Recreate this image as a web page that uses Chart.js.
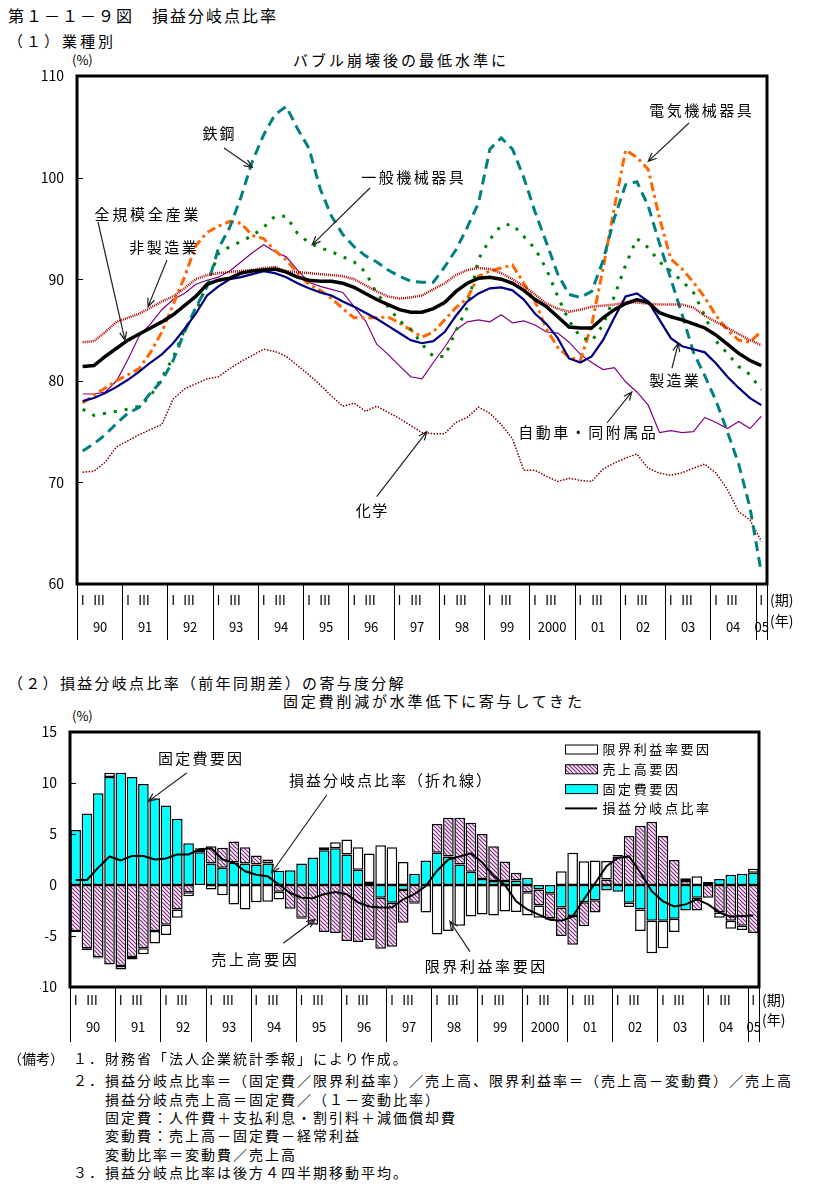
<!DOCTYPE html>
<html lang="ja">
<head>
<meta charset="utf-8">
<script src="https://cdn.jsdelivr.net/npm/chart.js@4.4.1/dist/chart.umd.min.js"></script>
<style>
  body { margin: 0; width: 830px; height: 1186px; background: #fff; position: relative; overflow: hidden;
         font-family: "Noto Sans CJK JP", "Noto Sans", sans-serif; color: #000; }
  .txt { position: absolute; white-space: nowrap; line-height: 1; }
  canvas { position: absolute; left: 0; }
</style>
</head>
<body>
<div class="txt" style="left:8px;top:7px;font-size:16px;letter-spacing:2px">第１－１－９図　損益分岐点比率</div>
<div class="txt" style="left:8px;top:33px;font-size:15px;letter-spacing:3px">（１）業種別</div>
<div class="txt" style="left:72px;top:53px;font-size:13px">(%)</div>
<div class="txt" style="left:293px;top:52px;font-size:15px;letter-spacing:3px">バブル崩壊後の最低水準に</div>
<canvas id="chart-industry" width="830" height="620" style="top:40px"></canvas>

<div class="txt" style="left:8px;top:675px;font-size:15px;letter-spacing:2.3px">（２）損益分岐点比率（前年同期差）の寄与度分解</div>
<div class="txt" style="left:283px;top:693px;font-size:15px;letter-spacing:2.8px">固定費削減が水準低下に寄与してきた</div>
<div class="txt" style="left:72px;top:709px;font-size:13px">(%)</div>
<canvas id="chart-factors" width="830" height="380" style="top:680px"></canvas>

<div class="txt" style="left:8px;top:1051px;font-size:14px">（備考）</div>
<div class="txt" style="left:73px;top:1051px;font-size:14px;letter-spacing:2px">１．財務省「法人企業統計季報」により作成。</div>
<div class="txt" style="left:73px;top:1073px;font-size:14px;letter-spacing:2px">２．損益分岐点比率＝（固定費／限界利益率）／売上高、限界利益率＝（売上高－変動費）／売上高</div>
<div class="txt" style="left:105px;top:1092px;font-size:14px;letter-spacing:2px">損益分岐点売上高＝固定費／（１－変動比率）</div>
<div class="txt" style="left:105px;top:1110px;font-size:14px;letter-spacing:2px">固定費：人件費＋支払利息・割引料＋減価償却費</div>
<div class="txt" style="left:105px;top:1128px;font-size:14px;letter-spacing:2px">変動費：売上高－固定費－経常利益</div>
<div class="txt" style="left:105px;top:1147px;font-size:14px;letter-spacing:2px">変動比率＝変動費／売上高</div>
<div class="txt" style="left:73px;top:1165px;font-size:14px;letter-spacing:2px">３．損益分岐点比率は後方４四半期移動平均。</div>

<script>
// quarters 1990 I .. 2005 I
const YEARS = ['90', '91', '92', '93', '94', '95', '96', '97', '98', '99', '2000', '01', '02', '03', '04', '05'];
const quarterLabels = [];
YEARS.forEach((yr, k) => {
  for (let q = 1; q <= 4; q++) {
    if (k === YEARS.length - 1 && q > 1) break;
    quarterLabels.push(yr + '-' + q);
  }
});

// (1) break-even ratio by industry, %
const allIndustries = [81.4, 81.5, 82.4, 83.2, 84.0, 84.6, 85.2, 85.8, 86.5, 87.4,
  88.3, 89.5, 89.9, 90.1, 90.6, 90.8, 90.9, 91.0, 90.7, 90.2,
  89.9, 89.8, 89.8, 89.6, 89.2, 88.6, 88.0, 87.5, 87.0, 86.75,
  86.75, 87.1, 87.7, 88.8, 89.6, 90.1, 90.2, 90.0, 89.6, 88.9,
  88.0, 87.3, 86.3, 85.3, 85.2, 85.2, 86.2, 87.0, 87.6, 88.0,
  87.7, 86.7, 86.3, 86.0, 85.6, 85.2, 84.5, 83.6, 82.7, 82.0, 81.5];
const nonManufacturing = [83.8, 83.9, 84.8, 85.8, 86.2, 86.6, 87.2, 87.8, 88.3, 89.1,
  90.0, 90.4, 90.6, 90.7, 90.8, 90.9, 91.1, 91.2, 90.8, 90.7,
  90.6, 90.5, 90.4, 90.3, 90.0, 89.4, 88.8, 88.3, 88.1, 88.2,
  88.4, 89.0, 89.6, 90.4, 90.9, 91.1, 91.0, 90.6, 90.0, 89.3,
  88.5, 87.6, 87.1, 86.8, 87.0, 87.3, 87.4, 87.5, 87.7, 87.7,
  87.6, 87.5, 87.5, 87.5, 87.2, 86.4, 85.8, 85.2, 84.6, 84.0, 83.5];
const manufacturing = [78.0, 78.3, 78.8, 79.4, 80.1, 80.9, 81.8, 82.6, 83.7, 85.1,
  86.6, 88.4, 89.3, 90.0, 90.2, 90.5, 90.8, 90.6, 90.2, 89.6,
  89.1, 88.7, 88.4, 87.8, 87.3, 86.7, 86.1, 85.4, 84.7, 84.0,
  83.7, 83.9, 84.8, 86.4, 87.8, 88.6, 89.1, 89.2, 88.9, 88.0,
  86.6, 85.6, 84.2, 82.2, 81.8, 82.4, 84.0, 86.2, 88.3, 88.6,
  87.8, 86.0, 84.2, 83.4, 83.1, 82.8, 81.7, 80.4, 79.3, 78.3, 77.6];
const steel = [73.1, 73.8, 74.7, 75.8, 76.8, 77.4, 78.8, 80.0, 82.0, 84.8,
  87.2, 89.3, 93.0, 95.1, 98.1, 101.6, 104.2, 106.2, 107.0, 104.8,
  102.9, 98.9, 96.2, 94.4, 93.2, 92.3, 91.7, 90.9, 90.3, 89.8,
  89.7, 89.7, 91.2, 92.9, 95.1, 97.5, 102.8, 103.9, 102.8, 100.0,
  96.6, 93.6, 90.5, 88.5, 88.2, 88.8, 91.8, 96.0, 99.3, 99.6,
  97.2, 93.5, 90.0, 86.5, 82.8, 80.5, 78.0, 75.0, 71.8, 67.5, 61.1];
const machinery = [77.2, 76.6, 76.8, 77.0, 77.2, 77.5, 78.5, 80.3, 82.3, 85.0,
  86.8, 89.5, 92.5, 93.2, 93.7, 94.3, 95.1, 96.2, 96.2, 94.5,
  93.6, 93.1, 92.7, 92.2, 91.7, 90.7, 88.6, 87.3, 85.9, 85.1,
  83.6, 82.4, 82.4, 84.9, 87.2, 92.0, 93.9, 95.3, 95.4, 94.2,
  93.0, 91.0, 88.3, 85.9, 84.3, 83.9, 85.5, 88.3, 91.4, 94.0,
  93.1, 91.7, 90.8, 89.8, 88.7, 86.4, 83.9, 82.7, 81.4, 80.6, 79.1];
const electrical = [77.8, 78.6, 79.3, 80.0, 80.6, 81.2, 82.8, 84.8, 87.5, 90.2,
  93.3, 94.6, 95.2, 95.7, 95.5, 94.3, 94.0, 92.8, 91.9, 90.6,
  89.5, 88.9, 88.1, 87.1, 86.2, 86.2, 86.2, 86.3, 85.7, 85.0,
  84.3, 84.8, 86.0, 87.2, 88.1, 90.3, 90.8, 91.1, 91.4, 89.6,
  87.8, 85.1, 83.3, 82.3, 82.0, 85.5, 91.0, 97.0, 102.7, 102.0,
  100.8, 96.0, 92.0, 91.0, 89.7, 88.2, 86.4, 85.0, 84.0, 83.8, 84.9];
const automobiles = [78.7, 78.7, 78.9, 80.0, 82.1, 84.4, 85.6, 87.0, 88.0, 88.6,
  89.5, 89.9, 90.2, 90.8, 91.7, 92.6, 93.4, 92.7, 92.2, 90.9,
  89.7, 89.3, 89.0, 88.7, 87.3, 85.9, 83.6, 82.6, 81.5, 80.4,
  80.2, 81.8, 83.3, 85.0, 85.8, 86.0, 85.8, 86.5, 85.7, 85.9,
  85.5, 84.8, 84.7, 83.8, 82.6, 81.8, 81.1, 81.3, 79.9, 78.9,
  77.6, 74.9, 75.1, 74.9, 75.0, 76.4, 75.9, 75.3, 76.0, 75.3, 76.5];
const chemicals = [71.0, 71.1, 72.0, 73.5, 74.1, 74.7, 75.2, 75.7, 78.2, 79.2,
  79.7, 80.2, 80.4, 81.2, 81.9, 82.5, 83.1, 82.9, 82.4, 81.5,
  80.6, 79.6, 78.5, 77.5, 77.8, 77.0, 77.5, 76.9, 76.3, 75.6,
  74.9, 74.8, 74.8, 75.9, 76.4, 77.4, 76.8, 75.7, 74.3, 71.2,
  71.2, 70.6, 70.1, 70.4, 70.2, 70.1, 71.3, 71.9, 72.4, 72.8,
  71.4, 70.9, 70.7, 70.95, 71.4, 71.8, 70.9, 69.3, 67.1, 66.3, 64.2];
const levelTicks = [60, 70, 80, 90, 100, 110];

// (2) year-on-year change and its contributions, % points
const fixedCostFactor = [5.4, 7.0, 9.0, 10.6, 11.0, 10.6, 9.9, 8.5, 7.8, 6.5,
  4.1, 3.2, 2.1, 1.7, 2.2, 2.1, 2.0, 2.1, 1.4, 1.45,
  2.1, 2.7, 3.4, 3.6, 3.0, 1.5, 0.2, -1.25, -1.75, -0.5,
  1.1, 2.4, 3.15, 2.8, 2.0, 1.3, 0.6, 0.4, 0.4, 0.45,
  0.7, -0.45, -0.8, -2.2, -3.05, -1.7, -1.5, -0.55, -0.65, -1.75,
  -2.4, -3.5, -3.5, -3.3, -2.5, -1.25, 0.1, 0.6, 1.0, 1.1, 1.2];
const salesFactor = [-4.5, -6.2, -7.1, -7.8, -7.95, -7.05, -6.2, -4.5, -3.9, -2.4,
  -0.7, 0.3, 1.7, 1.96, 2.06, 1.6, 0.9, 0.4, -0.67, -2.34,
  -3.2, -3.9, -4.6, -4.7, -5.5, -5.6, -5.4, -5.0, -4.3, -3.2,
  -1.75, 0, 2.84, 3.8, 4.6, 4.8, 4.4, 3.4, 1.9, 0.75,
  -0.7, -1.57, -2.45, -2.8, -2.8, -2.35, -1.2, 0.55, 2.8, 4.8,
  5.8, 6.2, 4.8, 2.45, 0.4, -1.24, -1.26, -2.7, -3.5, -4.0, -4.7];
const marginFactor = [-0.1, -0.2, -0.1, 0.4, -0.33, -0.26, -0.6, -1.24, -1.0, -0.8,
  -0.4, 0.1, -0.44, -1.0, -1.9, -2.4, -1.7, -1.65, -0.75, 0,
  -0.1, 0, 0.3, 0.6, 1.47, 2.2, 2.9, 3.9, 3.7, 2.25,
  -0.1, -2.7, -4.85, -4.5, -4.0, -3.1, -2.9, -3.0, -2.6, -2.65,
  -2.3, -1.2, -0.16, 1.36, 3.15, 2.34, 2.4, 1.8, 0.15, -0.4,
  -2.1, -3.2, -2.7, -1.3, 0.26, 0.87, 0.2, -0.5, -0.8, -0.4, 0.4];
const breakEvenChange = [0.5, 0.5, 1.7, 2.8, 2.4, 2.85, 2.85, 2.5, 2.6, 3.0,
  3.0, 3.5, 3.6, 2.5, 2.2, 1.35, 1.0, 0.85, 0.05, -0.8,
  -1.25, -1.3, -0.9, -0.7, -0.9, -1.7, -2.1, -2.2, -2.2, -1.4,
  -0.9, -0.1, 1.4, 2.5, 2.8, 3.1, 2.2, 0.9, 0.0, -1.6,
  -2.4, -2.9, -3.4, -3.5, -3.1, -1.4, 0.2, 1.85, 2.65, 2.8,
  1.2, -0.6, -1.6, -2.1, -1.9, -1.4, -1.9, -2.7, -3.1, -3.05, -3.0];

const FONT = '"Noto Sans CJK JP", "Noto Sans", sans-serif';

function spacedText(ctx, text, cx, cy, pitch) {
  const chars = Array.from(text);
  let x = cx - pitch * (chars.length - 1) / 2;
  chars.forEach((ch) => { ctx.fillText(ch, x, cy); x += pitch; });
}

function drawArrow(ctx, x0, y0, x1, y1) {
  const ang = Math.atan2(y1 - y0, x1 - x0);
  const h = 9;
  ctx.beginPath();
  ctx.moveTo(x0, y0);
  ctx.lineTo(x1, y1);
  ctx.moveTo(x1 - h * Math.cos(ang - 0.4), y1 - h * Math.sin(ang - 0.4));
  ctx.lineTo(x1, y1);
  ctx.lineTo(x1 - h * Math.cos(ang + 0.4), y1 - h * Math.sin(ang + 0.4));
  ctx.stroke();
}

// labels with arrows, tip given in data units
const arrowNotes = {
  id: 'arrowNotes',
  afterDatasetsDraw(chart, args, opts) {
    const { ctx, scales: { x, y } } = chart;
    ctx.save();
    ctx.font = opts.font;
    ctx.fillStyle = '#000';
    ctx.strokeStyle = '#222';
    ctx.lineWidth = 1.2;
    ctx.textAlign = 'center';
    ctx.textBaseline = 'middle';
    opts.notes.forEach((n) => {
      spacedText(ctx, n.text, n.cx, n.cy, n.pitch);
      drawArrow(ctx, n.from[0], n.from[1], x.getPixelForValue(n.at[0]), y.getPixelForValue(n.at[1]));
    });
    ctx.restore();
  }
};

// thick frame, inner y ticks and the quarter / year table under the plot
const frameAndTable = {
  id: 'frameAndTable',
  afterDraw(chart, args, opts) {
    const { ctx, chartArea: a, scales: { x, y } } = chart;
    const w = x.getPixelForValue(1) - x.getPixelForValue(0);
    ctx.save();
    ctx.strokeStyle = '#000';
    ctx.lineWidth = 1;
    y.ticks.forEach((t) => {
      const py = Math.round(y.getPixelForValue(t.value)) + 0.5;
      ctx.beginPath(); ctx.moveTo(a.left, py); ctx.lineTo(a.left + 6, py); ctx.stroke();
    });
    ctx.lineWidth = 3;
    ctx.strokeRect(a.left, a.top, a.right - a.left, a.bottom - a.top);

    ctx.lineWidth = 1;
    ctx.fillStyle = '#000';
    ctx.textBaseline = 'middle';
    ctx.textAlign = 'center';
    YEARS.forEach((yr, k) => {
      const q0 = k * 4;
      const left = Math.round(x.getPixelForValue(q0) - w / 2) + 0.5;
      const right = Math.min(left + 4 * w, a.right);
      ctx.beginPath(); ctx.moveTo(left, a.bottom); ctx.lineTo(left, a.bottom + opts.depth); ctx.stroke();
      ctx.font = '13px ' + FONT;
      ctx.fillText('Ⅰ', x.getPixelForValue(q0), a.bottom + opts.romanY);
      if (q0 + 2 < quarterLabels.length) ctx.fillText('Ⅲ', left + 2 * w - 1, a.bottom + opts.romanY);
      ctx.font = '13px ' + FONT;
      ctx.fillText(yr, (left + right) / 2, a.bottom + opts.yearY);
    });
    ctx.beginPath(); ctx.moveTo(a.right + 0.5, a.bottom); ctx.lineTo(a.right + 0.5, a.bottom + opts.depth); ctx.stroke();
    ctx.textAlign = 'left';
    ctx.font = '14px ' + FONT;
    ctx.fillText('(期)', a.right + 3, a.bottom + opts.romanY);
    ctx.fillText('(年)', a.right + 3, a.bottom + opts.unitY);
    ctx.restore();
  }
};

// legend box inside the plot of chart (2)
const boxLegend = {
  id: 'boxLegend',
  afterDraw(chart, args, opts) {
    const { ctx } = chart;
    const ds = chart.data.datasets;
    ctx.save();
    ctx.font = opts.font;
    ctx.fillStyle = '#000';
    ctx.textAlign = 'center';
    ctx.textBaseline = 'middle';
    opts.order.forEach((idx, row) => {
      const d = ds[idx];
      const cy = opts.y + row * opts.rowH;
      if (d.type === 'line') {
        ctx.strokeStyle = d.borderColor;
        ctx.lineWidth = d.borderWidth;
        ctx.beginPath(); ctx.moveTo(opts.x, cy); ctx.lineTo(opts.x + opts.boxW, cy); ctx.stroke();
      } else {
        ctx.fillStyle = d.backgroundColor;
        ctx.fillRect(opts.x, cy - opts.boxH / 2, opts.boxW, opts.boxH);
        ctx.strokeStyle = '#000';
        ctx.lineWidth = 1;
        ctx.strokeRect(opts.x + 0.5, cy - opts.boxH / 2 + 0.5, opts.boxW, opts.boxH);
      }
      ctx.fillStyle = '#000';
      const chars = Array.from(d.label);
      spacedText(ctx, d.label, opts.x + opts.boxW + 12 + opts.pitch * (chars.length - 1) / 2, cy, opts.pitch);
    });
    ctx.restore();
  }
};

const levelCtx = document.getElementById('chart-industry');
new Chart(levelCtx, {
  type: 'line',
  data: {
    labels: quarterLabels,
    datasets: [
      { label: '全規模全産業', data: allIndustries, borderColor: '#000000', borderWidth: 3.5 },
      { label: '非製造業', data: nonManufacturing, borderColor: '#b00000', borderWidth: 2.5, borderDash: [1, 1] },
      { label: '製造業', data: manufacturing, borderColor: '#000080', borderWidth: 2.2 },
      { label: '鉄鋼', data: steel, borderColor: '#008080', borderWidth: 3, borderDash: [10, 6] },
      { label: '一般機械器具', data: machinery, borderColor: '#008000', borderWidth: 3, borderDash: [3, 8] },
      { label: '電気機械器具', data: electrical, borderColor: '#ff6600', borderWidth: 3, borderDash: [9, 4, 3, 4] },
      { label: '自動車・同附属品', data: automobiles, borderColor: '#800080', borderWidth: 1.2 },
      { label: '化学', data: chemicals, borderColor: '#800000', borderWidth: 1.5, borderDash: [1.5, 1.5] }
    ]
  },
  options: {
    responsive: false,
    devicePixelRatio: 1,
    animation: false,
    layout: { padding: { left: 40, right: 63, top: 36, bottom: 76 } },
    elements: { point: { radius: 0 }, line: { tension: 0, fill: false } },
    plugins: {
      legend: { display: false },
      tooltip: { enabled: false },
      frameAndTable: { depth: 56, romanY: 16, yearY: 43, unitY: 37 },
      arrowNotes: {
        font: '15px ' + FONT,
        notes: [
          { text: '鉄鋼', cx: 218.5, cy: 93.5, pitch: 17, from: [224, 108], at: [15, 101] },
          { text: '一般機械器具', cx: 412.5, cy: 137.5, pitch: 17.5, from: [370, 148], at: [20.3, 93.4] },
          { text: '全規模全産業', cx: 146.5, cy: 174.5, pitch: 17.8, from: [98, 182], at: [3.74, 84.0] },
          { text: '非製造業', cx: 163, cy: 207.5, pitch: 17.5, from: [167, 220], at: [5.78, 87.3] },
          { text: '電気機械器具', cx: 700.5, cy: 70.5, pitch: 17.5, from: [689, 83], at: [50.0, 101.6] },
          { text: '製造業', cx: 674, cy: 340, pitch: 17.3, from: [672, 328], at: [52.66, 83.7] },
          { text: '自動車・同附属品', cx: 587, cy: 392.5, pitch: 17.5, from: [607, 383], at: [48.55, 78.9] },
          { text: '化学', cx: 371.5, cy: 470.5, pitch: 16.5, from: [376.7, 456.7], at: [30.42, 75.0] }
        ]
      }
    },
    scales: {
      x: { type: 'category', offset: true, display: false },
      y: {
        min: 60, max: 110,
        afterFit: (s) => { s.width = 37; },
        afterBuildTicks: (s) => { s.ticks = levelTicks.map((v) => ({ value: v })); },
        grid: { display: false, drawTicks: false },
        border: { display: false },
        ticks: { padding: 13, color: '#000', font: { family: FONT, size: 14 } }
      }
    }
  },
  plugins: [arrowNotes, frameAndTable]
});

const factorCtx = document.getElementById('chart-factors');
const hatchCanvas = document.createElement('canvas');
hatchCanvas.width = 4; hatchCanvas.height = 4;
const hg = hatchCanvas.getContext('2d');
hg.fillStyle = '#ffffff'; hg.fillRect(0, 0, 4, 4);
hg.strokeStyle = '#8b1a89'; hg.lineWidth = 1.2;
hg.beginPath();
hg.moveTo(-1, -1); hg.lineTo(5, 5);
hg.moveTo(-1, 3); hg.lineTo(1, 5);
hg.moveTo(3, -1); hg.lineTo(5, 1);
hg.stroke();
const hatch = factorCtx.getContext('2d').createPattern(hatchCanvas, 'repeat');

const barStyle = { borderColor: '#000', borderWidth: 1.5, borderSkipped: false, barPercentage: 0.94, categoryPercentage: 1.0, order: 1 };
new Chart(factorCtx, {
  type: 'bar',
  data: {
    labels: quarterLabels,
    datasets: [
      { type: 'bar', label: '固定費要因', data: fixedCostFactor, backgroundColor: '#00ffff', ...barStyle },
      { type: 'bar', label: '売上高要因', data: salesFactor, backgroundColor: hatch, ...barStyle },
      { type: 'bar', label: '限界利益率要因', data: marginFactor, backgroundColor: '#ffffff', ...barStyle },
      { type: 'line', label: '損益分岐点比率', data: breakEvenChange, borderColor: '#000', borderWidth: 2,
        pointRadius: 0, tension: 0, stack: 'line', order: 0 }
    ]
  },
  options: {
    responsive: false,
    devicePixelRatio: 1,
    animation: false,
    layout: { padding: { left: 40, right: 71, top: 52, bottom: 73 } },
    plugins: {
      legend: { display: false },
      tooltip: { enabled: false },
      frameAndTable: { depth: 55, romanY: 13, yearY: 40, unitY: 33 },
      boxLegend: { order: [2, 1, 0, 3], x: 565, y: 69, rowH: 19.8, boxW: 32, boxH: 9, pitch: 15.6, font: '13px ' + FONT },
      arrowNotes: {
        font: '15px ' + FONT,
        notes: [
          { text: '固定費要因', cx: 200, cy: 78.3, pitch: 17.3, from: [186.7, 93], at: [6.43, 8.2] },
          { text: '損益分岐点比率（折れ線）', cx: 390, cy: 100, pitch: 17, from: [326.7, 115], at: [17.35, 1.2] },
          { text: '売上高要因', cx: 254, cy: 279, pitch: 17.6, from: [283.3, 263.3], at: [21.18, -3.38] },
          { text: '限界利益率要因', cx: 485, cy: 286.7, pitch: 17.6, from: [470, 271.7], at: [33.13, -3.55] }
        ]
      }
    },
    scales: {
      x: { stacked: true, offset: true, display: false },
      y: {
        stacked: true,
        min: -10, max: 15,
        afterFit: (s) => { s.width = 30; },
        grid: { display: false, drawTicks: false },
        border: { display: false },
        ticks: { stepSize: 5, padding: 13, color: '#000', font: { family: FONT, size: 14 } }
      }
    }
  },
  plugins: [arrowNotes, frameAndTable, boxLegend]
});
</script>
</body>
</html>
